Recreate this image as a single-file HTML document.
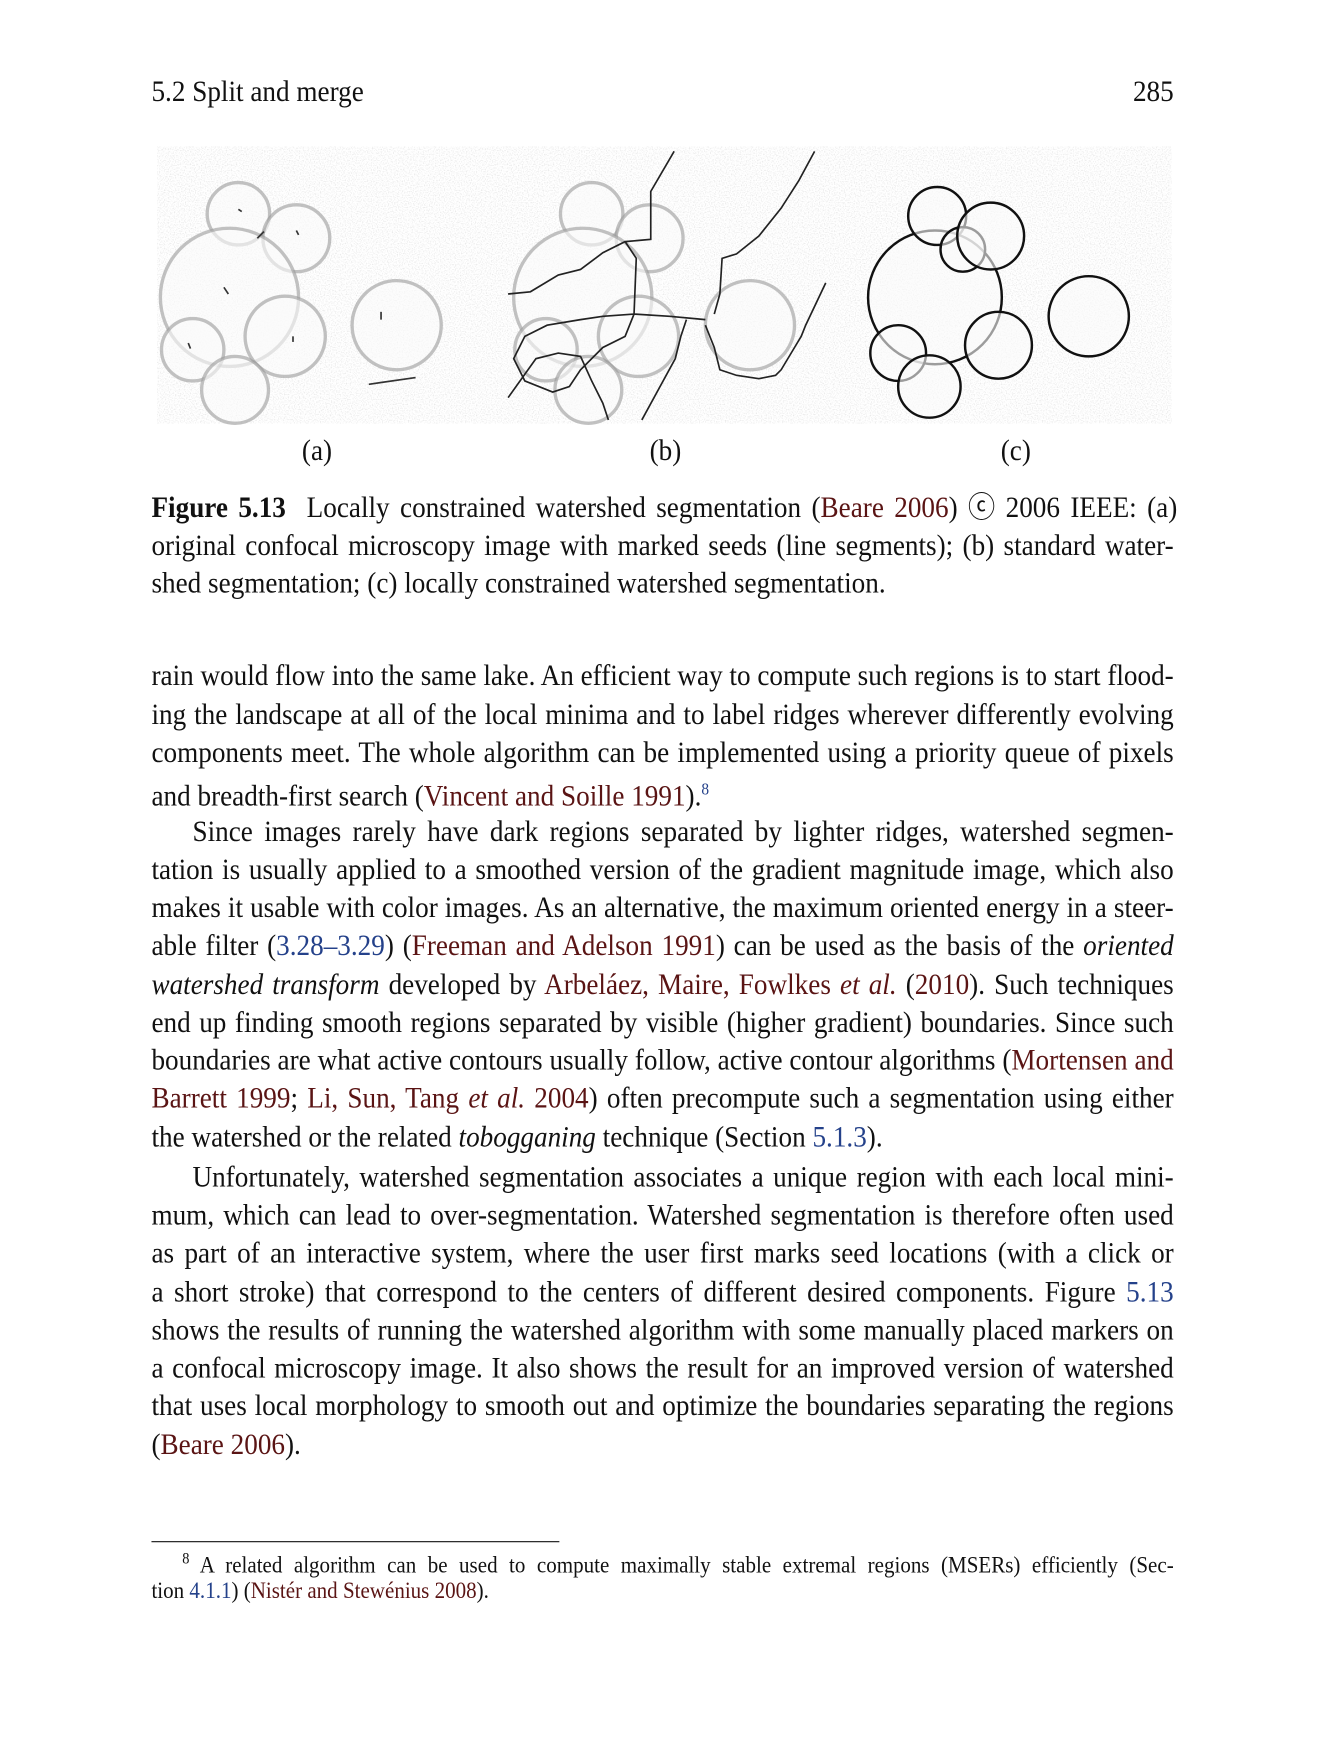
<!DOCTYPE html>
<html><head><meta charset="utf-8">
<style>
html,body{margin:0;padding:0;background:#fff;}
body{width:1325px;height:1750px;overflow:hidden;position:relative;}
#page{position:absolute;left:1px;top:2px;width:1177px;height:1555px;transform:scale(1.1145);transform-origin:0 0;font-family:"Liberation Serif",serif;color:#111;}
.ln{position:absolute;left:135px;width:997px;font-size:26.5px;line-height:34px;white-space:nowrap;transform:scaleX(0.92);transform-origin:0 0;}
.cite{color:#5a1414;}
.ref{color:#24418a;}
.fn{font-size:20.5px;line-height:28px;}
.ind{display:inline-block;width:40px;}
</style></head><body>
<div id="page">
<div class="ln" style="top:63px">5.2 Split and merge<span style="position:absolute;right:0">285</span></div>

<svg style="position:absolute;left:0;top:0" width="1177" height="420">
<defs>
<filter id="n" x="0" y="0" width="100%" height="100%"><feTurbulence type="fractalNoise" baseFrequency="0.9" numOctaves="1" seed="3"/><feColorMatrix values="0 0 0 0 0  0 0 0 0 0  0 0 0 0 0  0 0 0 -2.2 1.2"/></filter>
</defs>
<rect x="140" y="130" width="910" height="248" filter="url(#n)" opacity="0.12"/>
<g id="cellsA" fill="#fafafa" fill-opacity="0.6" stroke="#999" stroke-width="3" stroke-opacity="0.6">
<circle cx="213" cy="190" r="28"/><circle cx="265" cy="212" r="30"/><circle cx="355" cy="290" r="40"/>
<circle cx="205" cy="265" r="62"/><circle cx="255" cy="300" r="36"/><circle cx="172" cy="312" r="28"/><circle cx="210" cy="348" r="30"/>
<g stroke="#333" stroke-width="1.5" stroke-opacity="1"><line x1="330" y1="343" x2="372" y2="337"/><line x1="213" y1="186" x2="216" y2="188"/><line x1="200" y1="256" x2="204" y2="262"/><line x1="341" y1="278" x2="341" y2="285"/><line x1="265" y1="205" x2="267" y2="209"/><line x1="262" y1="300" x2="262" y2="305"/><line x1="168" y1="306" x2="170" y2="311"/><line x1="230" y1="212" x2="236" y2="206"/></g>
</g>
<g>
<g transform="translate(317,0)" fill="#fafafa" fill-opacity="0.6" stroke="#999" stroke-width="3" stroke-opacity="0.6">
<circle cx="213" cy="190" r="28"/><circle cx="265" cy="212" r="30"/><circle cx="355" cy="290" r="40"/>
<circle cx="205" cy="265" r="62"/><circle cx="255" cy="300" r="36"/><circle cx="172" cy="312" r="28"/><circle cx="210" cy="348" r="30"/></g>
<g fill="none" stroke="#222" stroke-width="1.5">
<polyline points="604,134 583,170 583,213 560,215 540,225 520,240 500,245 475,260 455,262"/>
<polyline points="730,134 716,160 700,185 680,210 660,226 647,230 645,262 640,280"/>
<polyline points="740,252 722,290 718,300 712,310 700,330 695,335 680,338 660,335 645,330 640,310 632,290"/>
<polyline points="560,215 570,230 568,280 560,300 540,310 520,330 510,345 495,350 470,340 460,320 470,300 490,290 520,285 540,282 568,280 600,282 632,285"/>
<polyline points="455,355 480,320 500,315 520,318 530,340 540,360 545,375"/>
<polyline points="575,375 605,320 610,300 615,285"/>
</g></g>
<g transform="translate(633,0)" fill="#fafafa" fill-opacity="0.6" stroke="#111" stroke-width="2.2">
<circle cx="205" cy="265" r="60"/><circle cx="207" cy="192" r="26"/><circle cx="230" cy="222" r="20"/><circle cx="255" cy="210" r="30"/>
<circle cx="343" cy="282" r="36"/><circle cx="262" cy="308" r="30"/><circle cx="172" cy="315" r="25"/><circle cx="200" cy="345" r="28"/>
</g>
</svg>

<div class="ln" style="top:385px;left:270px;width:40px">(a)</div>
<div class="ln" style="top:385px;left:582px;width:40px">(b)</div>
<div class="ln" style="top:385px;left:897px;width:40px">(c)</div>

<div>
<div class="ln j" style="top:436px"><span><b>Figure 5.13</b>&nbsp; Locally constrained watershed segmentation (<span class="cite">Beare 2006</span>) ⓒ 2006 IEEE: (a)</span></div>
<div class="ln j" style="top:470px"><span>original confocal microscopy image with marked seeds (line segments); (b) standard water-</span></div>
<div class="ln" style="top:504px">shed segmentation; (c) locally constrained watershed segmentation.</div>
</div>

<div>
<div class="ln j" style="top:587px"><span>rain would flow into the same lake. An efficient way to compute such regions is to start flood-</span></div>
<div class="ln j" style="top:622px"><span>ing the landscape at all of the local minima and to label ridges wherever differently evolving</span></div>
<div class="ln j" style="top:656px"><span>components meet. The whole algorithm can be implemented using a priority queue of pixels</span></div>
<div class="ln" style="top:690px">and breadth-first search (<span class="cite">Vincent and Soille 1991</span>).<sup class="ref" style="font-size:15px">8</sup></div>
</div>

<div>
<div class="ln j" style="top:727px"><span><span class="ind"></span>Since images rarely have dark regions separated by lighter ridges, watershed segmen-</span></div>
<div class="ln j" style="top:761px"><span>tation is usually applied to a smoothed version of the gradient magnitude image, which also</span></div>
<div class="ln j" style="top:795px"><span>makes it usable with color images. As an alternative, the maximum oriented energy in a steer-</span></div>
<div class="ln j" style="top:829px"><span>able filter (<span class="ref">3.28–3.29</span>) (<span class="cite">Freeman and Adelson 1991</span>) can be used as the basis of the <i>oriented</i></span></div>
<div class="ln j" style="top:864px"><span><i>watershed transform</i> developed by <span class="cite">Arbeláez, Maire, Fowlkes <i>et al.</i></span> (<span class="cite">2010</span>). Such techniques</span></div>
<div class="ln j" style="top:898px"><span>end up finding smooth regions separated by visible (higher gradient) boundaries. Since such</span></div>
<div class="ln j" style="top:932px"><span>boundaries are what active contours usually follow, active contour algorithms (<span class="cite">Mortensen and</span></span></div>
<div class="ln j" style="top:966px"><span><span class="cite">Barrett 1999</span>; <span class="cite">Li, Sun, Tang <i>et al.</i> 2004</span>) often precompute such a segmentation using either</span></div>
<div class="ln" style="top:1001px">the watershed or the related <i>tobogganing</i> technique (Section <span class="ref">5.1.3</span>).</div>
</div>

<div>
<div class="ln j" style="top:1037px"><span><span class="ind"></span>Unfortunately, watershed segmentation associates a unique region with each local mini-</span></div>
<div class="ln j" style="top:1071px"><span>mum, which can lead to over-segmentation. Watershed segmentation is therefore often used</span></div>
<div class="ln j" style="top:1105px"><span>as part of an interactive system, where the user first marks seed locations (with a click or</span></div>
<div class="ln j" style="top:1140px"><span>a short stroke) that correspond to the centers of different desired components. Figure <span class="ref">5.13</span></span></div>
<div class="ln j" style="top:1174px"><span>shows the results of running the watershed algorithm with some manually placed markers on</span></div>
<div class="ln j" style="top:1208px"><span>a confocal microscopy image. It also shows the result for an improved version of watershed</span></div>
<div class="ln j" style="top:1242px"><span>that uses local morphology to smooth out and optimize the boundaries separating the regions</span></div>
<div class="ln" style="top:1277px">(<span class="cite">Beare 2006</span>).</div>
</div>

<div style="position:absolute;left:135px;top:1381px;width:366px;height:1px;background:#111"></div>
<div>
<div class="ln fn j" style="top:1384px"><span><span style="display:inline-block;width:30px"></span><sup style="font-size:14px">8</sup> A related algorithm can be used to compute maximally stable extremal regions (MSERs) efficiently (Sec-</span></div>
<div class="ln fn" style="top:1412px">tion <span class="ref">4.1.1</span>) (<span class="cite">Nistér and Stewénius 2008</span>).</div>
</div>
</div>
<script>
document.querySelectorAll('.ln.j').forEach(function(d){
  var s=d.firstElementChild;
  var text=s.textContent;
  var spaces=(text.match(/ /g)||[]).length;
  var w=s.getBoundingClientRect().width/1.1145/0.92;
  var target=997;
  if(spaces>0){ s.style.wordSpacing=((target-w)/spaces)+'px'; }
});
</script>
</body></html>
